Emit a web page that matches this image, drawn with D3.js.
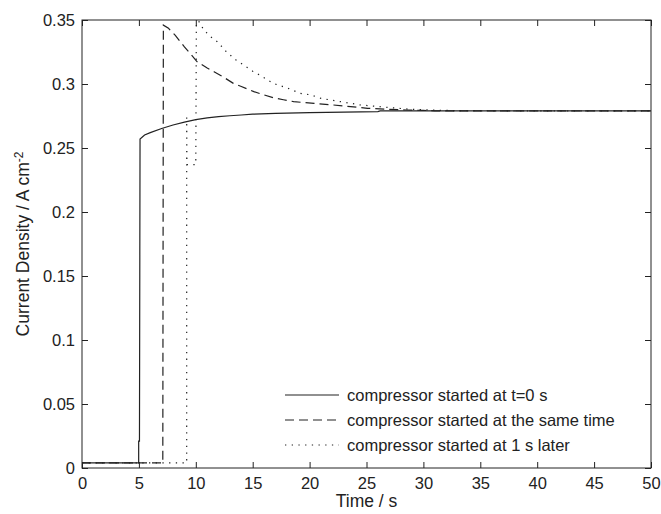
<!DOCTYPE html>
<html>
<head>
<meta charset="utf-8">
<script src="https://cdn.jsdelivr.net/npm/d3@7"></script>
<style>
  body { margin: 0; background: #fff; }
  text { font-family: "Liberation Sans", Arial, sans-serif; fill: #222; }
</style>
</head>
<body>
<div id="chart"></div>
<script>
// data
const solidT  = [0, 4.98, 4.98, 5.05, 5.1, 5.5, 6, 7, 8, 9, 10, 11, 12, 13, 14, 15, 17, 20, 23, 26, 26.2, 50];
const solidJ  = [0.004, 0.004, 0.021, 0.021, 0.257, 0.2602, 0.262, 0.2652, 0.268, 0.2702, 0.2722, 0.2735, 0.2745, 0.2752, 0.2758, 0.2764, 0.2771, 0.2777, 0.278, 0.2784, 0.279, 0.279];

const dashedT = [0, 7.1, 7.15, 7.6, 8.2, 9, 9.5, 10.1, 11, 11.6, 12.5, 13.3, 14, 15.1, 16, 16.8, 17.7, 18.6, 20.4, 22.1, 23.6, 25.1, 26.8, 28.5, 30, 31, 50];
const dashedJ = [0.004, 0.004, 0.346, 0.3435, 0.338, 0.329, 0.324, 0.3175, 0.3125, 0.3096, 0.305, 0.3005, 0.298, 0.294, 0.2915, 0.2893, 0.2877, 0.2862, 0.2849, 0.2836, 0.2823, 0.281, 0.2802, 0.2797, 0.2794, 0.279, 0.279];

const dottedT = [0, 9.2, 9.2, 9.22, 10.0, 10.05, 10.4, 10.7, 11.3, 11.9, 12.7, 13.5, 14.2, 15, 15.7, 16.8, 18, 19.2, 20.1, 21, 22.7, 24.5, 26.8, 28.9, 31, 33, 38, 50];
const dottedJ = [0.004, 0.004, 0.276, 0.237, 0.237, 0.352, 0.347, 0.3422, 0.337, 0.333, 0.325, 0.319, 0.3148, 0.31, 0.3065, 0.3005, 0.297, 0.2927, 0.2915, 0.2888, 0.2862, 0.2836, 0.2818, 0.2802, 0.2795, 0.2792, 0.279, 0.279];

const xTicks = [0, 5, 10, 15, 20, 25, 30, 35, 40, 45, 50];
const yTicks = [0, 0.05, 0.1, 0.15, 0.2, 0.25, 0.3, 0.35];
const legendLabels = ["compressor started at t=0 s", "compressor started at the same time", "compressor started at 1 s later"];

const W = 661, H = 514;
const margin = {top: 20, right: 10, bottom: 46, left: 82},
    width = W - margin.left - margin.right,
    height = H - margin.top - margin.bottom;

const svg = d3.select("#chart")
  .append("svg")
    .attr("width", W)
    .attr("height", H)
  .append("g")
    .attr("transform", `translate(${margin.left},${margin.top})`);

const x = d3.scaleLinear().domain([0, 50]).range([0, width]);
const y = d3.scaleLinear().domain([0, 0.35]).range([height, 0]);

const fmt = d => d3.format("~g")(d);

// bottom / left axes with inward ticks
svg.append("g")
  .attr("transform", `translate(0,${height})`)
  .call(d3.axisBottom(x).tickValues(xTicks).tickFormat(fmt).tickSizeInner(-6).tickSizeOuter(0).tickPadding(9))
  .call(g => g.select(".domain").remove())
  .selectAll("text").style("font-size", "16.5px").attr("dy", "0.71em");

svg.append("g")
  .call(d3.axisLeft(y).tickValues(yTicks).tickFormat(fmt).tickSizeInner(-6).tickSizeOuter(0).tickPadding(7))
  .call(g => g.select(".domain").remove())
  .selectAll("text").style("font-size", "16.5px");

// top / right ticks, no labels
svg.append("g")
  .call(d3.axisTop(x).tickValues(xTicks).tickFormat("").tickSizeInner(-6).tickSizeOuter(0))
  .call(g => g.select(".domain").remove());
svg.append("g")
  .attr("transform", `translate(${width},0)`)
  .call(d3.axisRight(y).tickValues(yTicks).tickFormat("").tickSizeInner(-6).tickSizeOuter(0))
  .call(g => g.select(".domain").remove());

svg.selectAll(".tick line").attr("stroke", "#222");

svg.append("rect")
  .attr("width", width).attr("height", height)
  .attr("fill", "none").attr("stroke", "#222").attr("stroke-width", 1);

svg.append("clipPath").attr("id", "clip")
  .append("rect").attr("width", width).attr("height", height);

const line = d3.line().x(d => x(d[0])).y(d => y(d[1]));

const series = [
  {t: solidT, j: solidJ, dash: null},
  {t: dashedT, j: dashedJ, dash: "9,5"},
  {t: dottedT, j: dottedJ, dash: "1.3,5.4"}
];

svg.append("g").attr("clip-path", "url(#clip)")
  .selectAll("path")
  .data(series)
  .join("path")
    .attr("d", s => line(s.t.map((t, i) => [t, s.j[i]])))
    .attr("fill", "none")
    .attr("stroke", "#222")
    .attr("stroke-width", 1.2)
    .attr("stroke-dasharray", s => s.dash);

// legend (no box)
const leg = svg.append("g").attr("transform", "translate(203,375)");
legendLabels.forEach((lab, i) => {
  const row = leg.append("g").attr("transform", `translate(0,${i * 25})`);
  row.append("line")
    .attr("x1", 0).attr("x2", 54)
    .attr("stroke", "#222").attr("stroke-width", 1.2)
    .attr("stroke-dasharray", series[i].dash);
  row.append("text")
    .attr("x", 62).attr("dy", "0.35em")
    .style("font-size", "16.5px")
    .text(lab);
});

// axis titles
svg.append("text")
  .attr("x", width / 2).attr("y", height + 39)
  .attr("text-anchor", "middle")
  .style("font-size", "17.5px")
  .text("Time / s");

const yl = svg.append("text")
  .attr("transform", `translate(${-53},${height / 2}) rotate(-90)`)
  .attr("text-anchor", "middle")
  .style("font-size", "17.5px");
yl.append("tspan").text("Current Density / A cm");
yl.append("tspan").attr("dy", "-0.5em").style("font-size", "12px").text("-2");
</script>
</body>
</html>
